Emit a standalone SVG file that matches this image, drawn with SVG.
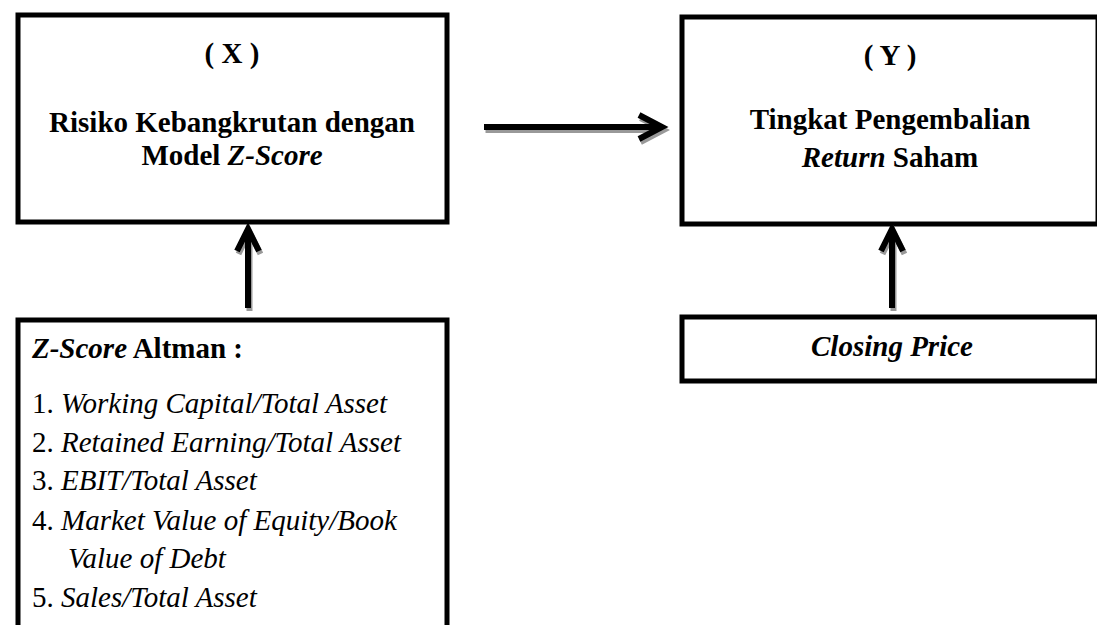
<svg xmlns="http://www.w3.org/2000/svg" width="1097" height="625" viewBox="0 0 1097 625">
<style>
.box{fill:#fff;stroke:#000;stroke-width:5}
.t{font-family:"Liberation Serif","Times New Roman",serif;font-size:29px;fill:#000}
.b{font-weight:bold}
.i{font-style:italic}
.arr{fill:none;stroke:#000;stroke-width:6;stroke-linecap:butt;stroke-linejoin:miter}
.sh{fill:none;stroke:#999;stroke-width:6}
</style>
<rect width="1097" height="625" fill="#fff"/>
<g id="nodeX">
<rect class="box" x="18" y="15" width="429" height="207"/>
<text class="t b" x="232" y="63" text-anchor="middle">( X )</text>
<text class="t b" x="232" y="132" text-anchor="middle">Risiko Kebangkrutan dengan</text>
<text class="t b" x="232" y="165" text-anchor="middle">Model <tspan class="i">Z-Score</tspan></text>
</g>
<g id="nodeY">
<rect class="box" x="682" y="17" width="416" height="207"/>
<text class="t b" x="890" y="65" text-anchor="middle">( Y )</text>
<text class="t b" x="890" y="129" text-anchor="middle">Tingkat Pengembalian</text>
<text class="t b" x="890" y="167" text-anchor="middle"><tspan class="i">Return</tspan> Saham</text>
</g>
<g id="nodeZ">
<path class="box" d="M18,640 V320 H447 V640"/>
<text class="t b" x="32" y="358"><tspan class="i">Z-Score</tspan> Altman :</text>
<text class="t" x="32" y="413">1. <tspan class="i">Working Capital/Total Asset</tspan></text>
<text class="t" x="32" y="452">2. <tspan class="i">Retained Earning/Total Asset</tspan></text>
<text class="t" x="32" y="490">3. <tspan class="i">EBIT/Total Asset</tspan></text>
<text class="t" x="32" y="530">4. <tspan class="i">Market Value of Equity/Book</tspan></text>
<text class="t i" x="68" y="568">Value of Debt</text>
<text class="t" x="32" y="607">5. <tspan class="i">Sales/Total Asset</tspan></text>
</g>
<g id="nodeCP">
<rect class="box" x="682" y="317" width="416" height="64"/>
<text class="t b i" x="892" y="356" text-anchor="middle">Closing Price</text>
</g>
<g id="connectors">
<g transform="translate(1.5,3)">
<path class="sh" d="M484,127 H660 M639,115 L662,127 L639,139"/>
<path class="sh" d="M248,308 V230 M237,251 L248,229 L259,251"/>
<path class="sh" d="M892,308 V230 M881,251 L892,229 L903,251"/>
</g>
<path class="arr" d="M484,127 H660 M639,115 L662,127 L639,139"/>
<path class="arr" d="M248,308 V230 M237,251 L248,229 L259,251"/>
<path class="arr" d="M892,308 V230 M881,251 L892,229 L903,251"/>
</g>
</svg>
